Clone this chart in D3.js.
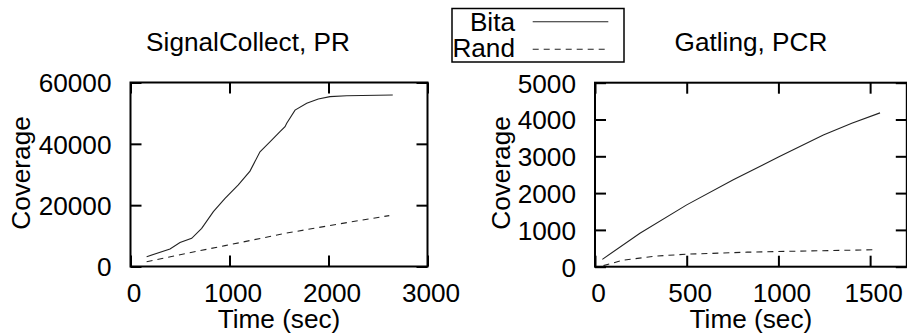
<html>
<head>
<script src="https://d3js.org/d3.v7.min.js"></script>
<style>
body { margin: 0; background: white; }
text { font-family: "Liberation Sans", Arial, Helvetica, sans-serif; fill: black; }
.tick line { stroke: black; stroke-width: 2; }
.tick text { font-size: 26px; }
</style>
</head>
<body>
<svg width=907 height=334></svg>
<script>
// SignalCollect, PR
var scBitaTime = [163, 399, 500, 618, 719, 837, 955, 1089, 1207, 1308, 1426, 1510, 1561, 1578, 1662, 1780, 1897, 2015, 2184, 2649];
var scBita = [3200, 5700, 7800, 9200, 12450, 17900, 22200, 26600, 31100, 37400, 41200, 44000, 45600, 46700, 51000, 53200, 54600, 55400, 55700, 55900];
var scRandTime = [163, 500, 955, 1561, 2100, 2614];
var scRand = [1570, 3850, 6800, 10800, 13850, 16600];
var scXTicks = [0, 1000, 2000, 3000];
var scYTicks = [0, 20000, 40000, 60000];

// Gatling, PCR
var gBitaTime = [40, 245, 500, 754, 1003, 1245, 1400, 1554];
var gBita = [200, 910, 1680, 2360, 2990, 3580, 3900, 4180];
var gRandTime = [46, 155, 337, 500, 830, 1182, 1518];
var gRand = [30, 180, 290, 340, 395, 430, 460];
var gXTicks = [0, 500, 1000, 1500];
var gYTicks = [0, 1000, 2000, 3000, 4000, 5000];

var fs = "26.2px";
var svg = d3.select("svg");

function panel(opt) {
  var x = d3.scaleLinear().domain(opt.xdom).range(opt.xr);
  var y = d3.scaleLinear().domain(opt.ydom).range(opt.yr);
  var g = svg.append("g");

  g.append("text")
    .attr("x", opt.titleX).attr("y", 51)
    .attr("text-anchor", "middle")
    .style("font-size", fs)
    .text(opt.title);

  var bx = g.append("g").attr("transform", "translate(0," + opt.yr[0] + ")")
    .call(d3.axisBottom(x).tickValues(opt.xticks).tickSize(-11).tickPadding(17).tickFormat(d3.format("d")));
  bx.selectAll(".tick text").attr("dx", 3).style("font-size", fs);
  var ly = g.append("g").attr("transform", "translate(" + opt.xr[0] + ",0)")
    .call(d3.axisLeft(y).tickValues(opt.yticks).tickSize(-11).tickPadding(19).tickFormat(d3.format("d")));
  ly.selectAll(".tick text").attr("dy", "0.36em").style("font-size", fs);
  g.append("g").attr("transform", "translate(0," + opt.yr[1] + ")")
    .call(d3.axisTop(x).tickValues(opt.xticks).tickSize(-11).tickFormat(""));
  g.append("g").attr("transform", "translate(" + opt.xr[1] + ",0)")
    .call(d3.axisRight(y).tickValues(opt.yticks).tickSize(-11).tickFormat(""));
  g.selectAll(".domain").remove();

  g.append("rect")
    .attr("x", opt.xr[0]).attr("y", opt.yr[1])
    .attr("width", opt.xr[1] - opt.xr[0]).attr("height", opt.yr[0] - opt.yr[1])
    .attr("fill", "none").attr("stroke", "black").attr("stroke-width", 2);

  var line = d3.line().x(function(d){return x(d[0]);}).y(function(d){return y(d[1]);});
  g.append("path")
    .attr("d", line(d3.zip(opt.bitaTime, opt.bita)))
    .attr("fill", "none").attr("stroke", "#222").attr("stroke-width", 1.1);
  g.append("path")
    .attr("d", line(d3.zip(opt.randTime, opt.rand)))
    .attr("fill", "none").attr("stroke", "#222").attr("stroke-width", 1.1)
    .attr("stroke-dasharray", "6,5");

  g.append("text")
    .attr("x", (opt.xr[0] + opt.xr[1]) / 2).attr("y", 328)
    .attr("text-anchor", "middle")
    .style("font-size", fs)
    .text("Time (sec)");
  g.append("text")
    .attr("transform", "translate(" + opt.ylabX + ",173) rotate(-90)")
    .attr("text-anchor", "middle")
    .style("font-size", fs)
    .text("Coverage");
}

panel({
  title: "SignalCollect, PR", titleX: 248,
  xdom: [0, 3000], xr: [130.5, 427.5],
  ydom: [0, 60000], yr: [266.5, 82.5],
  xticks: scXTicks, yticks: scYTicks,
  bitaTime: scBitaTime, bita: scBita, randTime: scRandTime, rand: scRand,
  ylabX: 29.5
});

panel({
  title: "Gatling, PCR", titleX: 751,
  xdom: [0, 1700], xr: [595, 906.8],
  ydom: [0, 5000], yr: [266.7, 82.7],
  xticks: gXTicks, yticks: gYTicks,
  bitaTime: gBitaTime, bita: gBita, randTime: gRandTime, rand: gRand,
  ylabX: 510
});

// legend
var leg = svg.append("g");
leg.append("rect").attr("x", 452).attr("y", 8.5).attr("width", 172).attr("height", 53.5)
  .attr("fill", "white").attr("stroke", "black").attr("stroke-width", 1.5);
var names = ["Bita", "Rand"];
names.forEach(function(n, i) {
  leg.append("text").attr("x", 515).attr("y", 30.7 + i * 26)
    .attr("text-anchor", "end").style("font-size", fs).text(n);
  leg.append("line").attr("x1", 532.7).attr("x2", 608.3)
    .attr("y1", 21.7 + i * 27.6).attr("y2", 21.7 + i * 27.6)
    .attr("stroke", "#222").attr("stroke-width", 1.1)
    .attr("stroke-dasharray", i == 1 ? "6,5" : null);
});
</script>
</body>
</html>
